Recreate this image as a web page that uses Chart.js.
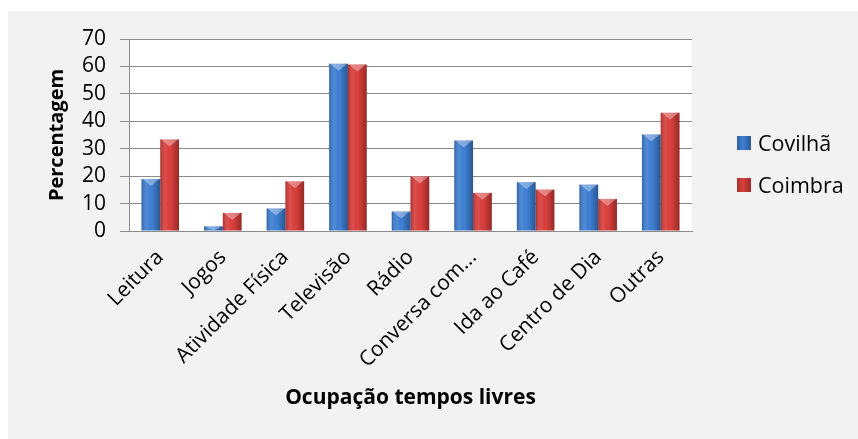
<!DOCTYPE html>
<html>
<head>
<meta charset="utf-8">
<script src="https://cdn.jsdelivr.net/npm/chart.js@4.4.1/dist/chart.umd.min.js"></script>
<style>
  html, body { margin: 0; padding: 0; background: #ffffff; }
  #panel { position: absolute; left: 8px; top: 11px; width: 850px; height: 428px; background: #f2f2f2; }
  #legend { position: absolute; left: 729px; top: 121px; font-family: "Open Sans", sans-serif; font-size: 21.5px; color: #000; }
  .item { position: relative; height: 42px; line-height: 22px; }
  .box { position: absolute; left: 0; top: 4px; width: 14px; height: 14px; }
  .txt { position: absolute; left: 21px; top: 0; white-space: nowrap; }
</style>
</head>
<body>
<div id="panel">
  <canvas id="tempos" width="850" height="428"></canvas>
  <div id="legend"></div>
</div>
<script>
   // Ocupação dos tempos livres ==============================
   const categorias = ['Leitura', 'Jogos', 'Atividade Física', 'Televisão', 'Rádio',
                       'Conversa com...', 'Ida ao Café', 'Centro de Dia', 'Outras'];
   const covilha = [19, 1.7, 8.2, 61, 7.1, 33, 17.8, 16.9, 35.2]; // %
   const coimbra = [33.4, 6.6, 18.1, 60.7, 19.9, 13.9, 15.1, 11.7, 43.1]; // %
   const yTicks = [0, 10, 20, 30, 40, 50, 60, 70];

   const corCovilha = '#3f80d4';
   const corCoimbra = '#da3f3c';

   // white plot area on the grey panel
   const plotBackground = {
       id: 'plotBackground',
       beforeDraw(chart) {
           const { ctx, chartArea: a } = chart;
           ctx.save();
           ctx.fillStyle = '#ffffff';
           ctx.fillRect(a.left, a.top, a.right - a.left, a.bottom - a.top);
           ctx.restore();
       }
   };

   // excel-like shading on the bars
   const barShade = {
       id: 'barShade',
       afterDatasetsDraw(chart) {
           const ctx = chart.ctx;
           chart.data.datasets.forEach((ds, i) => {
               chart.getDatasetMeta(i).data.forEach(bar => {
                   const left = bar.x - bar.width / 2;
                   const right = bar.x + bar.width / 2;
                   const top = bar.y;
                   const h = bar.base - bar.y;
                   ctx.save();
                   const g = ctx.createLinearGradient(left, 0, right, 0);
                   g.addColorStop(0, 'rgba(0,0,0,0.22)');
                   g.addColorStop(0.3, 'rgba(255,255,255,0.08)');
                   g.addColorStop(0.55, 'rgba(0,0,0,0)');
                   g.addColorStop(1, 'rgba(0,0,0,0.32)');
                   ctx.fillStyle = g;
                   ctx.fillRect(left, top, right - left, h);
                   // bevel on top
                   const bh = Math.min(7, h);
                   ctx.beginPath();
                   ctx.moveTo(left + 1, top);
                   ctx.lineTo(right - 1, top);
                   ctx.lineTo(bar.x, top + bh);
                   ctx.closePath();
                   ctx.fillStyle = 'rgba(255,255,255,0.35)';
                   ctx.fill();
                   ctx.restore();
               });
           });
       }
   };

   const ctxTempos = document.getElementById('tempos').getContext('2d');
   const temposChart = new Chart(ctxTempos, {
       type: 'bar',
       data: {
           labels: categorias,
           datasets: [
               {
                   label: 'Covilhã',
                   data: covilha,
                   backgroundColor: corCovilha,
                   categoryPercentage: 0.6,
                   barPercentage: 1.0
               },
               {
                   label: 'Coimbra',
                   data: coimbra,
                   backgroundColor: corCoimbra,
                   categoryPercentage: 0.6,
                   barPercentage: 1.0
               }
           ]
       },
       options: {
           responsive: false,
           animation: false,
           layout: {
               padding: { left: 30, right: 166, top: 28, bottom: 0 }
           },
           plugins: {
               legend: { display: false },
               tooltip: { enabled: false }
           },
           scales: {
               x: {
                   grid: { display: false, drawTicks: false },
                   border: { display: true, color: '#8c8c8c' },
                   ticks: {
                       autoSkip: false,
                       minRotation: 45,
                       maxRotation: 45,
                       padding: 14,
                       color: '#000',
                       font: { family: 'Open Sans', size: 21 }
                   },
                   title: {
                       display: true,
                       text: 'Ocupação tempos livres',
                       color: '#000',
                       font: { family: 'Open Sans', size: 21, weight: 'bold' },
                       padding: { top: 4, bottom: 28 }
                   },
                   afterFit: (scale) => { scale.height = 208; }
               },
               y: {
                   min: 0,
                   max: 70,
                   afterBuildTicks: (scale) => { scale.ticks = yTicks.map(v => ({ value: v })); },
                   grid: { color: '#8c8c8c', tickLength: 9 },
                   border: { display: true, color: '#8c8c8c' },
                   ticks: {
                       autoSkip: false,
                       padding: 14,
                       color: '#000',
                       font: { family: 'Open Sans', size: 21 }
                   },
                   title: {
                       display: true,
                       text: 'Percentagem',
                       color: '#000',
                       font: { family: 'Open Sans', size: 20, weight: 'bold' },
                       padding: { top: 7, bottom: 13 }
                   },
                   afterFit: (scale) => { scale.width = 91; }
               }
           }
       },
       plugins: [plotBackground, barShade]
   });

   // legend on the right
   const legendEl = document.getElementById('legend');
   temposChart.data.datasets.forEach(ds => {
       const item = document.createElement('div');
       item.className = 'item';
       item.innerHTML = '<span class="box" style="background: linear-gradient(to right, rgba(0,0,0,0.25), ' +
           ds.backgroundColor + ' 40%, rgba(0,0,0,0.3)), ' + ds.backgroundColor + ';"></span>' +
           '<span class="txt">' + ds.label + '</span>';
       legendEl.appendChild(item);
   });

//====================================================================
</script>
</body>
</html>
